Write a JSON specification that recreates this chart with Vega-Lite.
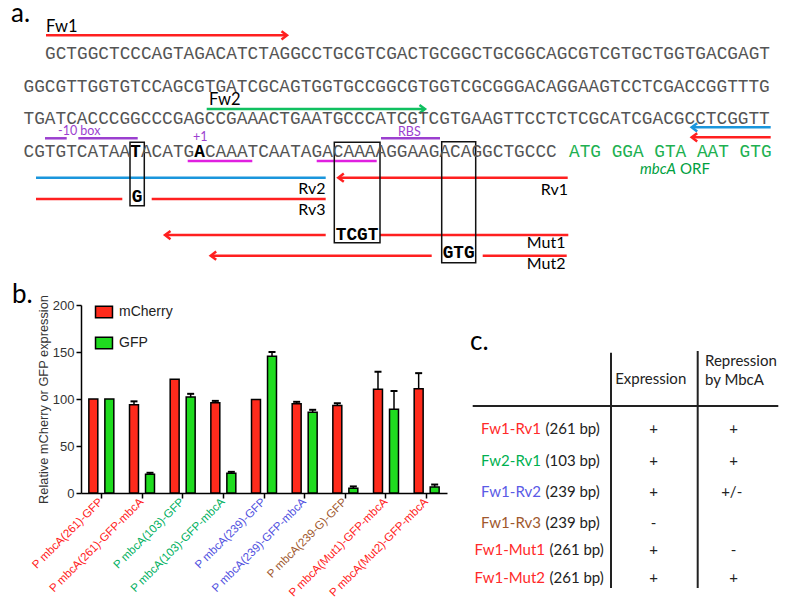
{
  "$schema": "https://vega.github.io/schema/vega-lite/v6.json",
  "padding": 0,
  "background": "white",
  "config": {"view": {"stroke": null}, "concat": {"spacing": 0}},
  "datasets": {
    "topText": [
      {"x": 45, "y": 59, "t": "GCTGGCTCCCAGTAGACATCTAGGCCTGCGTCGACTGCGGCTGCGGCAGCGTCGTGCTGGTGACGAGT", "s": "seq"},
      {"x": 23.5, "y": 91.7, "t": "GGCGTTGGTGTCCAGCGTGATCGCAGTGGTGCCGGCGTGGTCGCGGGACAGGAAGTCCTCGACCGGTTTG", "s": "seq"},
      {"x": 23.5, "y": 124, "t": "TGATCACCCGGCCCGAGCCGAAACTGAATGCCCATCGTCGTGAAGTTCCTCTCGCATCGACGCCTCGGTT", "s": "seq"},
      {"x": 23.5, "y": 156.7, "t": "CGTGTCATAA", "s": "seq"},
      {"x": 140.9, "y": 156.7, "t": "ACATG", "s": "seq"},
      {"x": 204.9, "y": 156.7, "t": "CAAATCAATAGACAAAAGGAAGACAGGCTGCCC", "s": "seq"},
      {"x": 130.2, "y": 156.7, "t": "T", "s": "bold"},
      {"x": 194.2, "y": 156.7, "t": "A", "s": "bold"},
      {"x": 131.8, "y": 202.3, "t": "G", "s": "bold"},
      {"x": 335.8, "y": 240, "t": "TCGT", "s": "bold"},
      {"x": 442.7, "y": 258.3, "t": "GTG", "s": "bold"},
      {"x": 569, "y": 156.7, "t": "ATG GGA GTA AAT GTG", "s": "orf"},
      {"x": 11, "y": 22, "t": "a.", "s": "panel"},
      {"x": 12, "y": 303, "t": "b.", "s": "panel"},
      {"x": 46, "y": 31.7, "t": "Fw1", "s": "lab"},
      {"x": 209, "y": 105, "t": "Fw2", "s": "lab"},
      {"x": 325.5, "y": 194, "t": "Rv2", "s": "labR"},
      {"x": 325.5, "y": 215, "t": "Rv3", "s": "labR"},
      {"x": 568, "y": 195, "t": "Rv1", "s": "labR"},
      {"x": 565.5, "y": 248.3, "t": "Mut1", "s": "labR"},
      {"x": 565.5, "y": 269, "t": "Mut2", "s": "labR"},
      {"x": 58, "y": 135, "t": "-10 box", "s": "purple"},
      {"x": 193, "y": 140.5, "t": "+1", "s": "purple"},
      {"x": 398, "y": 135.5, "t": "RBS", "s": "purple"},
      {"x": 640, "y": 174, "t": "mbcA", "s": "orfIt"},
      {"x": 680, "y": 174, "t": "ORF", "s": "orfLab"}
    ],
    "topLines": [
      {"x": 46, "x2": 286, "y": 35.3, "f": "Fw1"},
      {"x": 206.7, "x2": 424, "y": 109, "f": "Fw2"},
      {"x": 692, "x2": 770.7, "y": 127.3, "f": "Rv2"},
      {"x": 692, "x2": 770.7, "y": 137.3, "f": "Rv1"},
      {"x": 45, "x2": 66.7, "y": 138.3, "f": "-10 box"},
      {"x": 78.3, "x2": 137.7, "y": 138.3, "f": "-10 box"},
      {"x": 381, "x2": 440, "y": 138.3, "f": "RBS"},
      {"x": 187.7, "x2": 252.3, "y": 161, "f": "repeat"},
      {"x": 316.7, "x2": 376.7, "y": 161, "f": "repeat"},
      {"x": 36, "x2": 325.7, "y": 177.7, "f": "Rv2"},
      {"x": 339, "x2": 567.7, "y": 177.7, "f": "Rv1"},
      {"x": 36, "x2": 122.3, "y": 199, "f": "Rv3"},
      {"x": 151.7, "x2": 325.7, "y": 199, "f": "Rv3"},
      {"x": 166, "x2": 325.7, "y": 235, "f": "Mut1"},
      {"x": 380, "x2": 568.3, "y": 235, "f": "Mut1"},
      {"x": 211.5, "x2": 431.7, "y": 255.7, "f": "Mut2"},
      {"x": 482.7, "x2": 566.7, "y": 255.7, "f": "Mut2"}
    ],
    "arrowHeads": [
      {"x": 287, "y": 35.3, "f": "Fw1", "dir": "right"},
      {"x": 425, "y": 109, "f": "Fw2", "dir": "right"},
      {"x": 691.7, "y": 127.3, "f": "Rv2", "dir": "left"},
      {"x": 691.7, "y": 137.3, "f": "Rv1", "dir": "left"},
      {"x": 338.3, "y": 177.7, "f": "Rv1", "dir": "left"},
      {"x": 165, "y": 235, "f": "Mut1", "dir": "left"},
      {"x": 210.7, "y": 255.7, "f": "Mut2", "dir": "left"}
    ],
    "boxes": [
      {"x": 130, "x2": 144.3, "y": 142.3, "y2": 205.7},
      {"x": 334.3, "x2": 380, "y": 142.3, "y2": 242.7},
      {"x": 441.7, "x2": 475.7, "y": 141.7, "y2": 262.7}
    ],
    "bars": [
      {"construct": "P mbcA(261)-GFP", "reporter": "mCherry", "value": 100, "hi": null},
      {"construct": "P mbcA(261)-GFP", "reporter": "GFP", "value": 100, "hi": null},
      {"construct": "P mbcA(261)-GFP-mbcA", "reporter": "mCherry", "value": 94, "hi": 97.5},
      {"construct": "P mbcA(261)-GFP-mbcA", "reporter": "GFP", "value": 20, "hi": 21.5},
      {"construct": "P mbcA(103)-GFP", "reporter": "mCherry", "value": 121, "hi": null},
      {"construct": "P mbcA(103)-GFP", "reporter": "GFP", "value": 102, "hi": 105.5},
      {"construct": "P mbcA(103)-GFP-mbcA", "reporter": "mCherry", "value": 96, "hi": 98},
      {"construct": "P mbcA(103)-GFP-mbcA", "reporter": "GFP", "value": 21, "hi": 22.5},
      {"construct": "P mbcA(239)-GFP", "reporter": "mCherry", "value": 99.5, "hi": null},
      {"construct": "P mbcA(239)-GFP", "reporter": "GFP", "value": 145.5, "hi": 150},
      {"construct": "P mbcA(239)-GFP-mbcA", "reporter": "mCherry", "value": 95, "hi": 97},
      {"construct": "P mbcA(239)-GFP-mbcA", "reporter": "GFP", "value": 86, "hi": 88.5},
      {"construct": "P mbcA(239-G)-GFP", "reporter": "mCherry", "value": 93, "hi": 95.5},
      {"construct": "P mbcA(239-G)-GFP", "reporter": "GFP", "value": 5, "hi": 7},
      {"construct": "P mbcA(Mut1)-GFP-mbcA", "reporter": "mCherry", "value": 110.5, "hi": 129},
      {"construct": "P mbcA(Mut1)-GFP-mbcA", "reporter": "GFP", "value": 89, "hi": 108.5},
      {"construct": "P mbcA(Mut2)-GFP-mbcA", "reporter": "mCherry", "value": 111, "hi": 127.5},
      {"construct": "P mbcA(Mut2)-GFP-mbcA", "reporter": "GFP", "value": 6.5, "hi": 9}
    ],
    "tableText": [
      {"x": 470, "y": 350, "t": "c.", "k": "panel"},
      {"x": 650.7, "y": 384, "t": "Expression", "k": "headC"},
      {"x": 705, "y": 365.7, "t": "Repression", "k": "headL"},
      {"x": 705, "y": 385, "t": "by MbcA", "k": "headL"},
      {"x": 541, "y": 434, "t": "Fw1-Rv1", "k": "name"},
      {"x": 541, "y": 466, "t": "Fw2-Rv1", "k": "name"},
      {"x": 541, "y": 496.7, "t": "Fw1-Rv2", "k": "name"},
      {"x": 541, "y": 528.3, "t": "Fw1-Rv3", "k": "name"},
      {"x": 545, "y": 555, "t": "Fw1-Mut1", "k": "name"},
      {"x": 545, "y": 583.3, "t": "Fw1-Mut2", "k": "name"},
      {"x": 545.5, "y": 434, "t": "(261 bp)", "k": "bp"},
      {"x": 545.5, "y": 466, "t": "(103 bp)", "k": "bp"},
      {"x": 545.5, "y": 496.7, "t": "(239 bp)", "k": "bp"},
      {"x": 545.5, "y": 528.3, "t": "(239 bp)", "k": "bp"},
      {"x": 549.5, "y": 555, "t": "(261 bp)", "k": "bp"},
      {"x": 549.5, "y": 583.3, "t": "(261 bp)", "k": "bp"},
      {"x": 653.5, "y": 434, "t": "+", "k": "sign"},
      {"x": 733.5, "y": 434, "t": "+", "k": "sign"},
      {"x": 653.5, "y": 466, "t": "+", "k": "sign"},
      {"x": 733.5, "y": 466, "t": "+", "k": "sign"},
      {"x": 653.5, "y": 496.7, "t": "+", "k": "sign"},
      {"x": 731.7, "y": 496.7, "t": "+/-", "k": "sign"},
      {"x": 653.5, "y": 528.3, "t": "-", "k": "sign"},
      {"x": 653.5, "y": 555, "t": "+", "k": "sign"},
      {"x": 733.5, "y": 555, "t": "-", "k": "sign"},
      {"x": 653.5, "y": 583.3, "t": "+", "k": "sign"},
      {"x": 733.5, "y": 583.3, "t": "+", "k": "sign"}
    ],
    "tableLines": [
      {"x": 611, "x2": 611, "y": 352.7, "y2": 588},
      {"x": 697.7, "x2": 697.7, "y": 351, "y2": 588},
      {"x": 472.7, "x2": 778.3, "y": 406, "y2": 406}
    ]
  },
  "spacing": 0,
  "bounds": "flush",
  "resolve": {"scale": {"x": "independent", "y": "independent", "color": "independent", "shape": "independent"}, "legend": {"color": "independent", "shape": "independent"}},
  "vconcat": [
    {
      "width": 786,
      "height": 305,
      "encoding": {
        "x": {"field": "x", "type": "quantitative", "scale": {"domain": [0, 786], "nice": false, "zero": false}, "axis": null},
        "y": {"field": "y", "type": "quantitative", "scale": {"domain": [0, 305], "nice": false, "zero": false, "reverse": true}, "axis": null}
      },
      "layer": [
        {
          "data": {"name": "topLines"},
          "mark": {"type": "rule", "strokeWidth": 2.5, "strokeCap": "butt"},
          "encoding": {
            "x2": {"field": "x2"},
            "color": {"field": "f", "type": "nominal", "legend": null,
              "scale": {"domain": ["Fw1", "Fw2", "Rv1", "Rv2", "Rv3", "Mut1", "Mut2", "-10 box", "RBS", "repeat"],
                        "range": ["#ff2020", "#10c060", "#ff2020", "#1a96dc", "#ff2020", "#ff2020", "#ff2020", "#9b3fcf", "#9b3fcf", "#e020e0"]}}
          }
        },
        {
          "data": {"name": "arrowHeads"},
          "mark": {"type": "point", "filled": false, "strokeWidth": 2.5, "size": 121, "opacity": 1},
          "encoding": {
            "color": {"field": "f", "type": "nominal", "legend": null},
            "shape": {"field": "dir", "type": "nominal", "legend": null,
              "scale": {"domain": ["left", "right"], "range": ["M1,-0.75L0,0L1,0.75", "M-1,-0.75L0,0L-1,0.75"]}}
          }
        },
        {
          "data": {"name": "boxes"},
          "mark": {"type": "rect", "filled": false, "color": "#111111", "strokeWidth": 1.5},
          "encoding": {"x2": {"field": "x2"}, "y2": {"field": "y2"}}
        },
        {
          "data": {"name": "topText"},
          "transform": [{"filter": "datum.s == 'seq'"}],
          "mark": {"type": "text", "font": "Liberation Mono", "fontSize": 17.78, "color": "#555555", "align": "left", "baseline": "alphabetic"},
          "encoding": {"text": {"field": "t"}}
        },
        {
          "data": {"name": "topText"},
          "transform": [{"filter": "datum.s == 'bold'"}],
          "mark": {"type": "text", "font": "Liberation Mono", "fontSize": 17.78, "fontWeight": "bold", "color": "#000000", "align": "left", "baseline": "alphabetic"},
          "encoding": {"text": {"field": "t"}}
        },
        {
          "data": {"name": "topText"},
          "transform": [{"filter": "datum.s == 'orf'"}],
          "mark": {"type": "text", "font": "Liberation Mono", "fontSize": 17.78, "color": "#20b050", "align": "left", "baseline": "alphabetic"},
          "encoding": {"text": {"field": "t"}}
        },
        {
          "data": {"name": "topText"},
          "transform": [{"filter": "datum.s == 'panel'"}],
          "mark": {"type": "text", "font": "Lato", "fontSize": 26, "color": "#000000", "align": "left", "baseline": "alphabetic"},
          "encoding": {"text": {"field": "t"}}
        },
        {
          "data": {"name": "topText"},
          "transform": [{"filter": "datum.s == 'lab'"}],
          "mark": {"type": "text", "font": "Lato", "fontSize": 16.5, "color": "#000000", "align": "left", "baseline": "alphabetic"},
          "encoding": {"text": {"field": "t"}}
        },
        {
          "data": {"name": "topText"},
          "transform": [{"filter": "datum.s == 'labR'"}],
          "mark": {"type": "text", "font": "Lato", "fontSize": 16, "color": "#000000", "align": "right", "baseline": "alphabetic"},
          "encoding": {"text": {"field": "t"}}
        },
        {
          "data": {"name": "topText"},
          "transform": [{"filter": "datum.s == 'purple'"}],
          "mark": {"type": "text", "font": "Lato", "fontSize": 12.5, "color": "#9b3fcf", "align": "left", "baseline": "alphabetic"},
          "encoding": {"text": {"field": "t"}}
        },
        {
          "data": {"name": "topText"},
          "transform": [{"filter": "datum.s == 'orfIt'"}],
          "mark": {"type": "text", "font": "Lato", "fontSize": 15, "fontStyle": "italic", "color": "#00a040", "align": "left", "baseline": "alphabetic"},
          "encoding": {"text": {"field": "t"}}
        },
        {
          "data": {"name": "topText"},
          "transform": [{"filter": "datum.s == 'orfLab'"}],
          "mark": {"type": "text", "font": "Lato", "fontSize": 15, "color": "#00a040", "align": "left", "baseline": "alphabetic"},
          "encoding": {"text": {"field": "t"}}
        }
      ]
    },
    {
      "spacing": 0,
      "bounds": "flush",
      "resolve": {"scale": {"x": "independent", "y": "independent", "color": "independent", "shape": "independent"}, "legend": {"color": "independent"}},
      "hconcat": [
        {
          "width": 81,
          "height": 188,
          "data": {"values": [{"a": 1}]},
          "mark": {"type": "text", "text": " "},
          "encoding": {}
        },
        {
          "width": 366,
          "height": 188,
          "data": {"name": "bars"},
          "encoding": {
            "x": {"field": "construct", "type": "nominal", "sort": null, "title": null,
              "scale": {"paddingInner": 0, "paddingOuter": 0},
              "axis": {"domainColor": "#000000", "domainWidth": 1.5, "tickColor": "#000000", "tickWidth": 1.5, "tickSize": 5,
                "labelAngle": -45, "labelAlign": "right", "labelBaseline": "middle", "labelFont": "Liberation Sans", "labelFontSize": 11.5,
                "labelPadding": 2, "labelLimit": 0,
                "labelColor": {"condition": [
                  {"test": "indexof(datum.value, '103') >= 0", "value": "#00b060"},
                  {"test": "indexof(datum.value, '239-G') >= 0", "value": "#a0582d"},
                  {"test": "indexof(datum.value, '(239)') >= 0", "value": "#5050e0"}
                ], "value": "#ff2020"}}
            },
            "xOffset": {"field": "reporter", "type": "nominal", "sort": ["mCherry", "GFP"], "scale": {"paddingInner": 0.44, "paddingOuter": 0.49}},
            "y": {"field": "value", "type": "quantitative",
              "scale": {"domain": [0, 200], "nice": false},
              "axis": {"values": [0, 50, 100, 150, 200], "grid": false, "title": "Relative mCherry or GFP expression",
                "domainColor": "#000000", "domainWidth": 1.5, "tickColor": "#000000", "tickWidth": 1.5, "tickSize": 5,
                "labelFont": "Liberation Sans", "labelFontSize": 13, "labelColor": "#333333", "labelPadding": 2,
                "titleFont": "Liberation Sans", "titleFontSize": 12.8, "titleFontWeight": "normal", "titleColor": "#333333", "titlePadding": 2}
            }
          },
          "layer": [
            {
              "mark": {"type": "bar", "stroke": "#000000", "strokeWidth": 1.5},
              "encoding": {
                "color": {"field": "reporter", "type": "nominal",
                  "scale": {"domain": ["mCherry", "GFP"], "range": ["#ff2b1c", "#1fdc1f"]},
                  "legend": {"title": null, "orient": "none", "legendX": 16, "legendY": 0, "padding": 0,
                    "symbolType": "M-1.5,-1H1.5V1H-1.5Z", "symbolSize": 128, "symbolStrokeColor": "#000000", "symbolStrokeWidth": 1.5, "symbolOpacity": 1,
                    "labelFont": "Liberation Sans", "labelFontSize": 14, "labelColor": "#222222", "rowPadding": 13, "labelOffset": 8}}
              }
            },
            {
              "transform": [{"filter": "datum.hi != null"}],
              "mark": {"type": "rule", "color": "#000000", "strokeWidth": 1.5},
              "encoding": {"y2": {"field": "hi"}}
            },
            {
              "transform": [{"filter": "datum.hi != null"}],
              "mark": {"type": "tick", "color": "#000000", "thickness": 2, "size": 7, "opacity": 1},
              "encoding": {"y": {"field": "hi", "type": "quantitative"}}
            }
          ]
        },
        {
          "width": 339,
          "height": 304,
          "encoding": {
            "x": {"field": "x", "type": "quantitative", "scale": {"domain": [447, 786], "nice": false, "zero": false}, "axis": null},
            "y": {"field": "y", "type": "quantitative", "scale": {"domain": [305, 609], "nice": false, "zero": false, "reverse": true}, "axis": null}
          },
          "layer": [
            {
              "data": {"name": "tableLines"},
              "mark": {"type": "rule", "color": "#222222", "strokeWidth": 2},
              "encoding": {"x2": {"field": "x2"}, "y2": {"field": "y2"}}
            },
            {
              "data": {"name": "tableText"},
              "transform": [{"filter": "datum.k == 'panel'"}],
              "mark": {"type": "text", "font": "Lato", "fontSize": 26, "color": "#000000", "align": "left", "baseline": "alphabetic"},
              "encoding": {"text": {"field": "t"}}
            },
            {
              "data": {"name": "tableText"},
              "transform": [{"filter": "datum.k == 'headC' || datum.k == 'sign'"}],
              "mark": {"type": "text", "font": "Lato", "fontSize": 15, "color": "#222222", "align": "center", "baseline": "alphabetic"},
              "encoding": {"text": {"field": "t"}}
            },
            {
              "data": {"name": "tableText"},
              "transform": [{"filter": "datum.k == 'headL' || datum.k == 'bp'"}],
              "mark": {"type": "text", "font": "Lato", "fontSize": 15, "color": "#222222", "align": "left", "baseline": "alphabetic"},
              "encoding": {"text": {"field": "t"}}
            },
            {
              "data": {"name": "tableText"},
              "transform": [{"filter": "datum.k == 'name'"}],
              "mark": {"type": "text", "font": "Lato", "fontSize": 15, "align": "right", "baseline": "alphabetic"},
              "encoding": {
                "text": {"field": "t"},
                "color": {"field": "t", "type": "nominal", "legend": null,
                  "scale": {"domain": ["Fw1-Rv1", "Fw2-Rv1", "Fw1-Rv2", "Fw1-Rv3", "Fw1-Mut1", "Fw1-Mut2"],
                            "range": ["#ff2a2a", "#00b050", "#5a5ae6", "#a0582d", "#ff2a2a", "#ff2a2a"]}}
              }
            }
          ]
        }
      ]
    }
  ]
}
